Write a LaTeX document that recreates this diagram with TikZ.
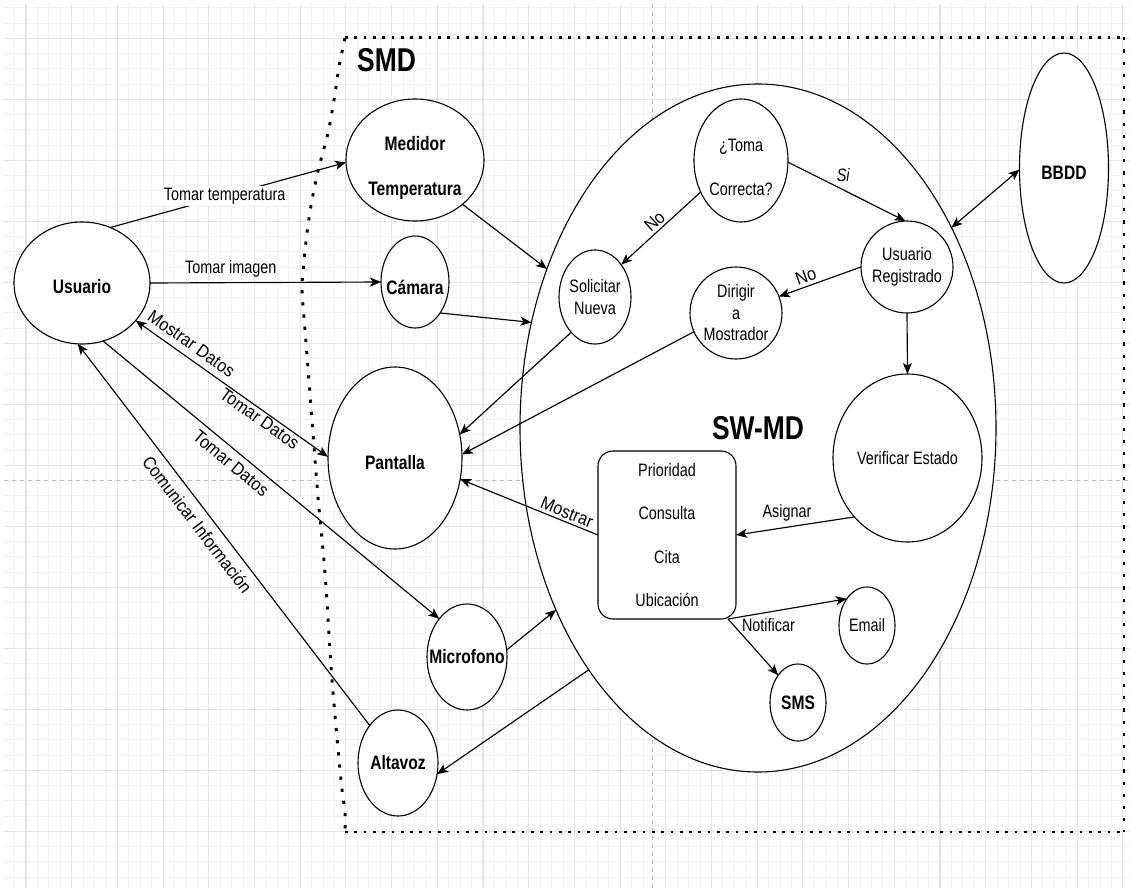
\documentclass[tikz,border=0pt]{standalone}
\usepackage{fontspec}
\setmainfont{Liberation Sans}[FakeStretch=0.8]
\newfontfamily\slopedfont{Liberation Sans}[FakeStretch=0.9]
\usetikzlibrary{shapes.geometric,arrows.meta}
\begin{document}
\begin{tikzpicture}[x=1pt,y=-1pt,
  gridminor/.style={draw=black!5, line width=0.9pt},
  gridmajor/.style={draw=black!11, line width=1.1pt},
  pagebreak/.style={draw=black!28, line width=0.8pt, dash pattern=on 4pt off 4pt},
  dotsh/.style={line width=2.7pt, dash pattern=on 2.7pt off 6.6pt},
  dotsv/.style={line width=2.9pt, dash pattern=on 3.2pt off 9pt},
  ent/.style={ellipse, draw=black, fill=white, line width=1.1pt, inner sep=0pt, outer sep=0pt},
  box/.style={rectangle, rounded corners=15pt, draw=black, fill=white, line width=1.1pt, inner sep=0pt, outer sep=0pt},
  tb/.style={font=\fontsize{19.5}{23}\selectfont\bfseries, align=center, inner sep=0pt},
  tr/.style={font=\fontsize{18}{21.5}\selectfont, align=center, inner sep=0pt},
  big/.style={font=\fontsize{33}{36}\selectfont\bfseries, inner sep=0pt},
  lab/.style={font=\fontsize{18}{21}\selectfont, inner sep=1.5pt},
  slab/.style={font=\slopedfont\fontsize{18}{21}\selectfont, inner sep=1.5pt},
  tip/.tip={Stealth[length=11pt,width=9pt,inset=2.8pt]},
  conn/.style={line width=1.15pt, -tip},
  conn2/.style={line width=1.15pt, tip-tip},
]
\useasboundingbox (0,0) rectangle (1130,888);
\fill[white] (0,0) rectangle (1130,888);

% drawing grid
\begin{scope}
  \clip (4,4) rectangle (1130,888);
  \foreach \k in {0,...,98} \draw[gridminor] ({3.15+11.425*\k},4) -- ++(0,884);
  \foreach \k in {0,...,57} \draw[gridminor] (4,{7.8+15.25*\k}) -- ++(1126,0);
  \foreach \k in {0,...,24} \draw[gridmajor] ({26+45.7*\k},4) -- ++(0,884);
  \foreach \k in {0,...,13} \draw[gridmajor] (4,{38.3+61*\k}) -- ++(1126,0);
\end{scope}
\draw[pagebreak] (652,4) -- (652,888);
\draw[pagebreak] (4,480) -- (1130,480);

% SMD boundary
\draw[dotsh] (345,37.3) -- (1124,37.3);
\draw[dotsh] (345,832) -- (1124,832);
\draw[dotsv] (1124,37.3) -- (1124,832);
\draw[dotsv] plot[smooth] coordinates {(345,38) (339,67) (334,100) (328,133) (319,167) (312,200) (307,233) (303.5,267) (302,290) (305,330) (311,407) (318,497) (325,573) (332,680) (341,780) (345,813) (345,832)};
\node[big] (smd) at (386.5,60) {SMD};

% software block
\node[ent, minimum width=476pt, minimum height=688pt, label={[big]center:SW-MD}] (sw) at (758,428) {};

% outer entities
\node[ent, minimum width=136pt, minimum height=122pt, label={[tb,yshift=-4pt]center:Usuario}] (usr) at (82,283) {};
\node[ent, minimum width=138pt, minimum height=122pt, label={[tb,yshift=-8pt]center:{Medidor\\[22pt]Temperatura}}] (med) at (415,160) {};
\node[ent, minimum width=68pt, minimum height=92pt, label={[tb,yshift=-5pt]center:Cámara}] (cam) at (415,282) {};
\node[ent, minimum width=134pt, minimum height=182pt, label={[tb,yshift=-5pt]center:Pantalla}] (pan) at (395,458) {};
\node[ent, minimum width=80pt, minimum height=106pt, label={[tb]center:Microfono}] (mic) at (467,657) {};
\node[ent, minimum width=80pt, minimum height=106pt, label={[tb]center:Altavoz}] (alt) at (398,763) {};
\node[ent, minimum width=89pt, minimum height=230pt, label={[tb,yshift=-5pt]center:BBDD}] (bbdd) at (1064,168) {};

% inner processes
\node[ent, minimum width=94pt, minimum height=123pt, label={[tr,yshift=-7pt]center:{¿Toma\\[23pt]Correcta?}}] (toma) at (741,160.5) {};
\node[ent, minimum width=92pt, minimum height=92pt, label={[tr]center:{Usuario\\Registrado}}] (reg) at (907,267) {};
\node[ent, minimum width=72pt, minimum height=94pt, label={[tr]center:{Solicitar\\[1pt]Nueva}}] (sol) at (595,297) {};
\node[ent, minimum width=92pt, minimum height=92pt, label={[tr]center:{Dirigir\\a\\Mostrador}}] (dir) at (736,313) {};
\node[ent, minimum width=149pt, minimum height=168pt, label={[tr]center:Verificar Estado}] (ver) at (907.5,458) {};
\node[box, minimum width=138pt, minimum height=168pt, label={[tr]center:{Prioridad\\[22pt]Consulta\\[22pt]Cita\\[22pt]Ubicación}}] (rect) at (667,535) {};
\node[ent, minimum width=56pt, minimum height=77pt, label={[tr]center:Email}] (email) at (867,625.5) {};
\node[ent, minimum width=56pt, minimum height=77pt, label={[tb]center:SMS}] (sms) at (798,702.5) {};

% connectors
\draw[conn] (usr.63) -- node[lab, fill=white, pos=0.485] {Tomar temperatura} (med.182);
\draw[conn] (usr.0) -- node[lab, above=3pt, pos=0.35] {Tomar imagen} (cam.180);
\draw[conn] (med.-43) -- (sw.143);
\draw[conn] (cam.-51) -- (sw.155);
\draw[conn2] (usr.-35) -- node[slab, sloped, above=5pt, pos=0.25] {Mostrar Datos} node[slab, sloped, below=0pt, pos=0.67] {Tomar Datos} (pan.179);
\draw[conn] (usr.-70) -- node[slab, sloped, below=4.5pt, pos=0.405] {Tomar Datos} (mic.126);
\draw[conn] (alt.127) -- node[slab, sloped, below=6pt, pos=0.55] {Comunicar Información} (usr.266);
\draw[conn] (mic.10) -- (sw.222);
\draw[conn] (sw.235) -- (alt.-16);
\draw[conn] (sol.236) -- (pan.20);
\draw[conn] (dir.204) -- (pan.3);
\draw[conn] (rect.west) -- node[slab, sloped, above=1pt, pos=0.25] {Mostrar} (pan.-18);
\draw[conn] (toma.218) -- node[slab, sloped, above=1pt, pos=0.5] {No} (sol.51);
\draw[conn] (toma.-2) -- node[lab, above=6pt, pos=0.47, font=\fontsize{18}{21}\selectfont\itshape] {Si} (reg.92);
\draw[conn] (reg.180) -- node[slab, sloped, above=2pt, pos=0.63] {No} (dir.21);
\draw[conn] (reg.270) -- (ver.90);
\draw[conn] (ver.228) -- node[lab, above=4pt, pos=0.57] {Asignar} (rect.east);
\draw[conn] (rect.-54) -- node[lab, below=4pt, pos=0.34] {Notificar} (email.127);
\draw[conn] (rect.-54) -- (sms.126);
\draw[conn2] (sw.46) -- (bbdd.182);
\end{tikzpicture}
\end{document}
